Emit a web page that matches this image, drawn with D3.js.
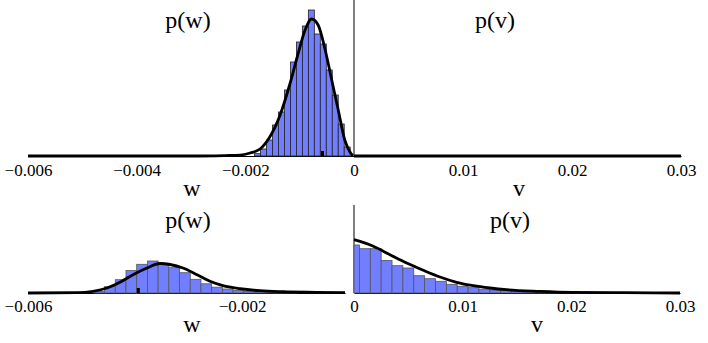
<!DOCTYPE html>
<html>
<head>
<meta charset="utf-8">
<script src="https://cdn.jsdelivr.net/npm/d3@7"></script>
<style>
  body { margin: 0; background: #fff; }
  text { font-family: "Liberation Serif", "DejaVu Serif", serif; fill: #000; }
</style>
</head>
<body>
<div id="chart"></div>
<script>
// ---- data (heights in arbitrary density units) ----

// top row, p(w): histogram
var topWBinStart = -0.00183;
var topWBinWidth = 0.00011;
var topWCounts = [2.3, 7, 16, 31, 44, 66, 94, 114, 130, 146, 122, 112, 86, 61, 32, 9];

// top row, p(w): fitted curve
var topWCurveX = [-0.006, -0.00283, -0.00237, -0.0021, -0.00191, -0.00173, -0.00155, -0.00136,
    -0.00118, -0.00103, -0.0009, -0.00078, -0.00066, -0.00053, -0.00041, -0.00029,
    -0.00017, -0.000074, -0.00002];
var topWCurveY = [0, 0, 0.4, 0.8, 3, 7, 19, 41, 72, 102, 126, 137, 131, 106, 76, 46, 16, 4, 0];

// top row, p(v): curve lies on zero
var topVCurveX = [0, 0.03];
var topVCurveY = [0, 0];

// bottom row, p(w)
var botWBinStart = -0.00477;
var botWBinWidth = 0.0002;
var botWCounts = [1.5, 6.3, 13.3, 22.5, 28.7, 32, 29.7, 25.3, 20.3, 13.7, 9.2, 5.8, 4, 2.5,
    1.7, 1.2, 0.8, 0.5, 0.3];
var botWCurveX = [-0.006, -0.005085, -0.004786, -0.004525, -0.004282, -0.004039, -0.003778,
    -0.003535, -0.003348, -0.003106, -0.002844, -0.002601, -0.002359, -0.002041,
    -0.001668, -0.001238, -0.000603, -0.00008];
var botWCurveY = [0, 0.3, 1.7, 5, 10.7, 18.3, 25, 29.5, 28.5, 25, 18.3, 11.7, 7.3, 4.3,
    2.3, 1.3, 0.7, 0.3];

// bottom row, p(v): bins centred on multiples of 0.001
var botVBinWidth = 0.001;
var botVCounts = [48, 44.3, 44.3, 32.5, 27.3, 25, 17.3, 14.3, 11.7, 8.7, 6.7, 5.3, 3.8, 3,
    2.3, 1.7, 1.3, 1, 0.7, 0.5, 0.3, 0.3, 0.2];
var botVCurveX = [0, 0.00178, 0.00331, 0.00485, 0.00638, 0.00791, 0.00945, 0.01098,
    0.01251, 0.01405, 0.01711, 0.02015, 0.02475, 0.03];
var botVCurveY = [53.3, 46.7, 38.3, 30, 22.7, 16, 10.7, 7.3, 5, 3.3, 1.7, 0.7, 0.3, 0];

// small markers on the baseline
var topMarkerW = -0.00058;
var botMarkerW = -0.00394;

// tick labels
var topWTicks = [-0.006, -0.004, -0.002, 0];
var topVTicks = [0.01, 0.02, 0.03];
var botWTicks = [-0.006, -0.002];
var botVTicks = [0, 0.01, 0.02, 0.03];

// ---- drawing ----
var width = 708, height = 343;
var svg = d3.select('#chart').append('svg')
    .attr('width', width)
    .attr('height', height);

var fmt = d3.format('');
var barFill = 'rgb(112,126,255)';
var serif = '"Liberation Serif", "DejaVu Serif", serif';

function zip(xs, ys) {
    return xs.map(function (x, i) { return [x, ys[i]]; });
}

function drawAxis(x, y0, ticks, pad) {
    var g = svg.append('g')
        .attr('transform', 'translate(0,' + y0 + ')')
        .call(d3.axisBottom(x).tickValues(ticks).tickFormat(fmt)
            .tickSizeInner(0).tickSizeOuter(0).tickPadding(pad));
    g.attr('font-family', serif).attr('font-size', 17);
    g.select('.domain').attr('stroke', '#000').attr('stroke-width', 1);
    g.selectAll('text')
        .attr('fill', '#000')
        .style('font-family', serif)
        .style('font-size', '17px');
    return g;
}

function drawBars(x, y, bins, stroke) {
    svg.append('g').selectAll('rect')
        .data(bins)
        .enter().append('rect')
        .attr('x', function (d) { return x(d.lo); })
        .attr('width', function (d) { return x(d.hi) - x(d.lo); })
        .attr('y', function (d) { return y(d.value); })
        .attr('height', function (d) { return y(0) - y(d.value); })
        .attr('fill', barFill)
        .attr('stroke', stroke)
        .attr('stroke-width', 0.8);
}

function drawCurve(x, y, pts) {
    var line = d3.line()
        .x(function (d) { return x(d[0]); })
        .y(function (d) { return y(d[1]); })
        .curve(d3.curveMonotoneX);
    svg.append('path')
        .datum(pts)
        .attr('d', line)
        .attr('fill', 'none')
        .attr('stroke', '#000')
        .attr('stroke-width', 2.8)
        .attr('stroke-linejoin', 'round');
}

function drawMarker(x, y, w) {
    svg.append('rect')
        .attr('x', x(w) - 1.5)
        .attr('y', y(0) - 5)
        .attr('width', 3)
        .attr('height', 5)
        .attr('fill', '#000');
}

function label(txt, cx, by, size) {
    svg.append('text')
        .attr('x', cx)
        .attr('y', by)
        .attr('text-anchor', 'middle')
        .style('font-size', size + 'px')
        .text(txt);
}

// top row scales
var xwTop = d3.scaleLinear().domain([-0.006, 0]).range([28, 354]);
var xvTop = d3.scaleLinear().domain([0, 0.03]).range([354, 681]);
var yTop = d3.scaleLinear().domain([0, 150]).range([156, 6]);

// bottom row scales
var xwBot = d3.scaleLinear().domain([-0.006, -0.00008]).range([28, 345]);
var xvBot = d3.scaleLinear().domain([0, 0.03]).range([354, 680]);
var yBot = d3.scaleLinear().domain([0, 88]).range([293, 205]);

// top row
var topBins = topWCounts.map(function (c, i) {
    return { lo: topWBinStart + i * topWBinWidth, hi: topWBinStart + (i + 1) * topWBinWidth, value: c };
});
drawAxis(xwTop, yTop(0), topWTicks, 8);
drawAxis(xvTop, yTop(0), topVTicks, 8);
svg.append('line')
    .attr('x1', xvTop(0)).attr('x2', xvTop(0))
    .attr('y1', 0).attr('y2', yTop(0))
    .attr('stroke', '#000').attr('stroke-width', 1);
drawBars(xwTop, yTop, topBins, '#222');
drawCurve(xwTop, yTop, zip(topWCurveX, topWCurveY));
drawCurve(xvTop, yTop, zip(topVCurveX, topVCurveY));
drawMarker(xwTop, yTop, topMarkerW);

// bottom row
var botWBins = botWCounts.map(function (c, i) {
    return { lo: botWBinStart + i * botWBinWidth, hi: botWBinStart + (i + 1) * botWBinWidth, value: c };
});
var botVBins = botVCounts.map(function (c, i) {
    var centre = i * botVBinWidth;
    return { lo: Math.max(0, centre - botVBinWidth / 2), hi: centre + botVBinWidth / 2, value: c };
});
drawAxis(xwBot, yBot(0), botWTicks, 7);
drawAxis(xvBot, yBot(0), botVTicks, 7);
svg.append('line')
    .attr('x1', xvBot(0)).attr('x2', xvBot(0))
    .attr('y1', 205).attr('y2', yBot(0))
    .attr('stroke', '#000').attr('stroke-width', 1);
drawBars(xwBot, yBot, botWBins, '#555');
drawBars(xvBot, yBot, botVBins, '#555');
drawCurve(xwBot, yBot, zip(botWCurveX, botWCurveY));
drawCurve(xvBot, yBot, zip(botVCurveX, botVCurveY));
drawMarker(xwBot, yBot, botMarkerW);

// titles and axis names
label('p(w)', 188, 28, 24);
label('p(v)', 495, 28, 24);
label('w', 192, 196, 24);
label('v', 519, 196, 24);
label('p(w)', 188, 228, 24);
label('p(v)', 510, 228, 24);
label('w', 192, 332, 24);
label('v', 537, 332, 24);
</script>
</body>
</html>
